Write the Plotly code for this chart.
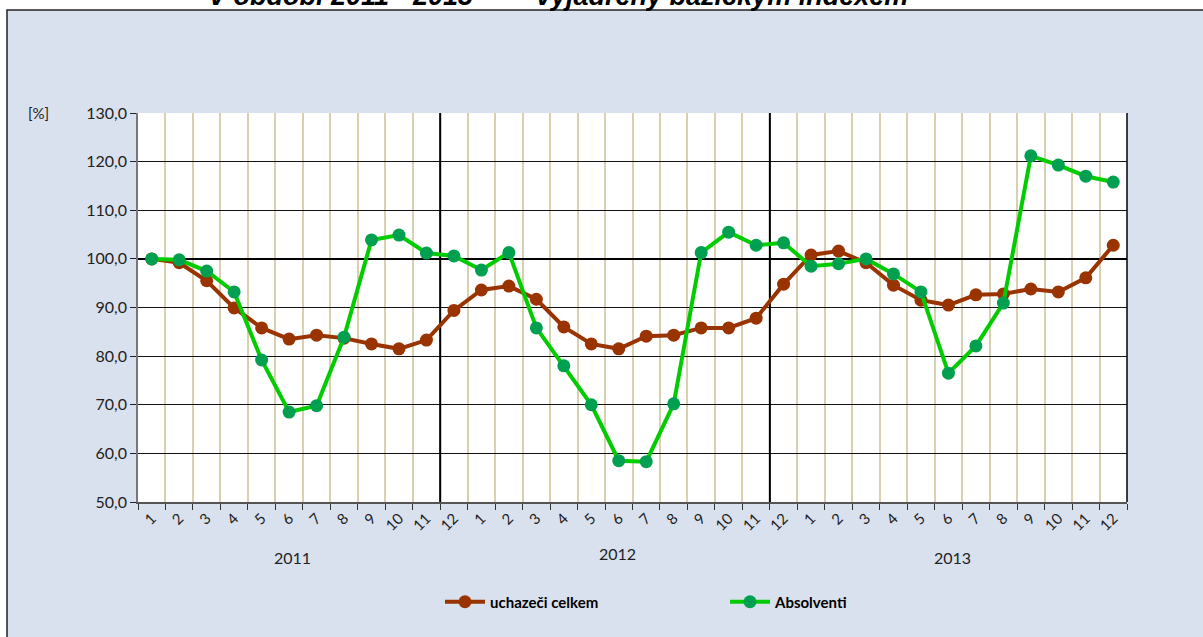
import plotly.graph_objects as go

years = ["2011", "2012", "2013"]
months = [str(m) for m in range(1, 13)]
tick_labels = months * 3

uchazeci = [100.0, 99.2, 95.5, 89.9, 85.8, 83.5, 84.3, 83.7, 82.5, 81.5, 83.3, 89.4,
            93.6, 94.4, 91.7, 86.0, 82.5, 81.5, 84.1, 84.3, 85.8, 85.8, 87.8, 94.8,
            100.8, 101.6, 99.2, 94.6, 91.5, 90.5, 92.6, 92.8, 93.8, 93.2, 96.1, 102.8]
absolventi = [100.0, 99.8, 97.5, 93.2, 79.2, 68.5, 69.8, 83.9, 103.9, 104.9, 101.2, 100.6,
              97.7, 101.3, 85.8, 78.0, 70.0, 58.5, 58.3, 70.2, 101.3, 105.5, 102.8, 103.3,
              98.5, 99.0, 100.0, 96.9, 93.2, 76.5, 82.1, 90.9, 121.2, 119.3, 117.0, 115.8]

n = len(tick_labels)
xs = list(range(n))
FONT = "Lato"
Y_MIN, Y_MAX = 50, 130

fig = go.Figure()
# year separators (drawn first so the series lie over them), between months 11 and 12
for k in range(1, len(years)):
    sep = 12 * k - 1.5
    fig.add_trace(go.Scatter(x=[sep, sep], y=[Y_MIN, Y_MAX], mode="lines",
                             line=dict(color="black", width=2),
                             showlegend=False, hoverinfo="skip"))
# 100 baseline
fig.add_trace(go.Scatter(x=[-0.5, n - 0.5], y=[100, 100], mode="lines",
                         line=dict(color="black", width=2),
                         showlegend=False, hoverinfo="skip"))

fig.add_trace(go.Scatter(x=xs, y=uchazeci, name="uchazeči celkem", mode="lines+markers",
                         line=dict(color="#993300", width=4),
                         marker=dict(color="#993300", size=13)))
fig.add_trace(go.Scatter(x=xs, y=absolventi, name="Absolventi", mode="lines+markers",
                         line=dict(color="#00CC00", width=4),
                         marker=dict(color="#00A050", size=13)))

W, H = 1203, 637
L, R, T, B = 138, 1127, 113, 502
pw, ph = R - L, B - T

def px_x(p):
    return (p - L) / pw

def px_y(p):
    return (B - p) / ph

shapes = [
    # outer chart frame (light blue)
    dict(type="rect", xref="paper", yref="paper", x0=px_x(7), x1=px_x(1220),
         y0=px_y(650), y1=px_y(10), fillcolor="#DAE1EE",
         line=dict(color="#222222", width=1.5), layer="below"),
    # plot area (white)
    dict(type="rect", xref="paper", yref="paper", x0=0, x1=1, y0=0, y1=1,
         fillcolor="white", line=dict(width=0), layer="below"),
    # right edge of plot area
    dict(type="line", xref="paper", yref="paper", x0=1, x1=1, y0=0, y1=1,
         line=dict(color="black", width=1.5), layer="between"),
]

annotations = [
    dict(text="[%]", xref="paper", yref="paper", x=px_x(38), y=px_y(113),
         xanchor="center", yanchor="middle", showarrow=False,
         font=dict(family=FONT, size=15, color="#222222")),
    dict(text="<b><i>V období 2011 - 2013</i></b>", xref="paper", yref="paper",
         x=px_x(340), y=px_y(13), xanchor="center", yanchor="bottom", showarrow=False,
         font=dict(family="Liberation Sans", size=27, color="black")),
    dict(text="<b><i>vyjádřený bazickým indexem</i></b>", xref="paper", yref="paper",
         x=px_x(722), y=px_y(13), xanchor="center", yanchor="bottom", showarrow=False,
         font=dict(family="Liberation Sans", size=27, color="black")),
]
year_pos = [(292, 557), (617, 553), (952, 557)]
for yr, (yx, yy) in zip(years, year_pos):
    annotations.append(dict(text=yr, xref="paper", yref="paper", x=px_x(yx), y=px_y(yy),
                            xanchor="center", yanchor="middle", showarrow=False,
                            font=dict(family=FONT, size=16, color="#222222")))

fig.update_layout(
    width=W, height=H,
    margin=dict(l=L, r=W - R, t=T, b=H - B, pad=0),
    paper_bgcolor="white", plot_bgcolor="rgba(0,0,0,0)",
    separators=", ",
    font=dict(family=FONT, color="#222222"),
    shapes=shapes, annotations=annotations,
    showlegend=True,
    legend=dict(orientation="h", x=px_x(440), xanchor="left", y=px_y(602), yanchor="middle",
                bgcolor="rgba(0,0,0,0)", font=dict(family=FONT, size=15, color="black", weight="bold"),
                itemwidth=40, entrywidth=230),
    xaxis=dict(range=[-0.5, n - 0.5], tickmode="array", tickvals=xs, ticktext=tick_labels,
               tickangle=-45, ticks="", showgrid=False, zeroline=False,
               tickfont=dict(family=FONT, size=15, color="#222222"),
               showline=True, linecolor="#555555", linewidth=1.5, mirror=False,
               minor=dict(tick0=-0.5, dtick=1, ticks="outside", ticklen=6,
                          tickcolor="#333333", showgrid=True, gridcolor="#D9D0B0",
                          gridwidth=1.5)),
    yaxis=dict(range=[Y_MIN, Y_MAX], dtick=10, tick0=Y_MIN, tickformat=".1f",
               showgrid=True, gridcolor="#111111", gridwidth=1, zeroline=False,
               ticks="outside", ticklen=6, tickcolor="#222222",
               showline=True, linecolor="#777777", linewidth=1.5, mirror=False,
               tickfont=dict(family=FONT, size=16, color="#222222")),
)

fig.write_html("out.html", config={"displayModeBar": False},
               post_script="document.body.style.margin='0px';")
